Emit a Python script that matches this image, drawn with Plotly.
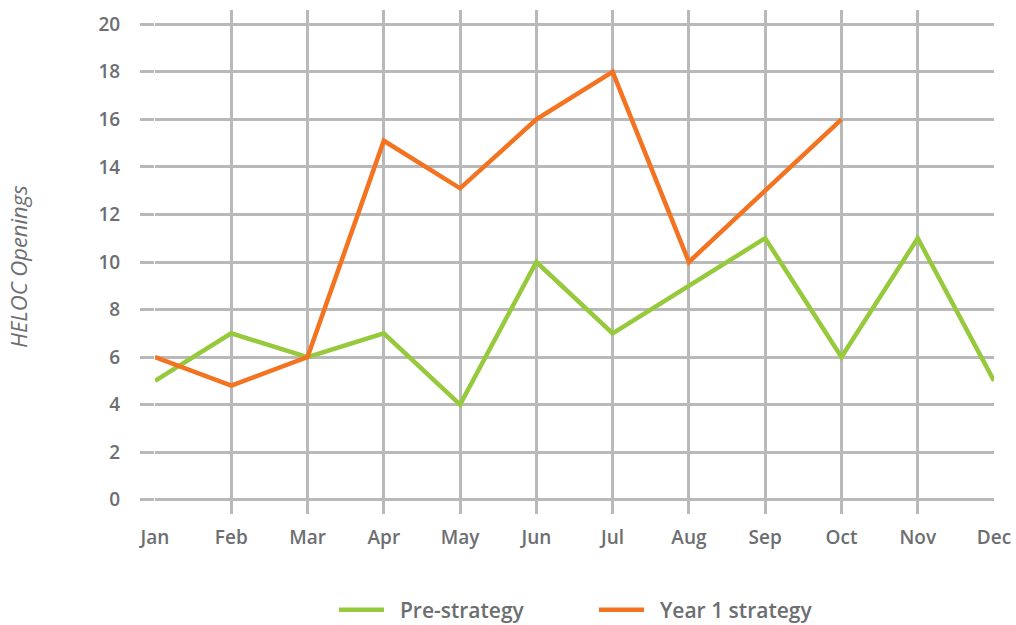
import plotly.graph_objects as go

months = ["Jan", "Feb", "Mar", "Apr", "May", "Jun", "Jul", "Aug", "Sep", "Oct", "Nov", "Dec"]
pre_strategy = [5, 7, 6, 7, 4, 10, 7, 9, 11, 6, 11, 5]
year1_strategy = [6, 4.8, 6, 15.1, 13.1, 16, 18, 10, 13, 16, None, None]
y_ticks = [0, 2, 4, 6, 8, 10, 12, 14, 16, 18, 20]
series_names = ["Pre-strategy", "Year 1 strategy"]

GREEN = "#97c93d"
ORANGE = "#f37321"
GRID = "#b9b9b9"
TEXT = "#6d6e71"
FONT = "Open Sans"
PAD = "\u00a0\u00a0"

fig = go.Figure()
fig.add_trace(go.Scatter(x=months, y=pre_strategy, mode="lines", name=PAD + series_names[0],
                         line=dict(color=GREEN, width=4.5)))
fig.add_trace(go.Scatter(x=months, y=year1_strategy, mode="lines", name=PAD + series_names[1],
                         line=dict(color=ORANGE, width=4.5)))

fig.update_layout(
    width=1016, height=625,
    margin=dict(l=155, r=22, t=10, b=111),
    paper_bgcolor="white", plot_bgcolor="white",
    font=dict(family=FONT, color=TEXT, size=19),
    showlegend=True,
    legend=dict(orientation="h", x=(334 - 155) / 839, xanchor="left", xref="paper",
                y=0.024, yanchor="middle", yref="container",
                font=dict(family=FONT, size=21, color=TEXT, weight=600),
                itemwidth=45, traceorder="normal", entrywidth=200, entrywidthmode="pixels"),
    xaxis=dict(
        range=[0, 11], showgrid=True, gridcolor=GRID, gridwidth=2.5,
        zeroline=False, showline=False, automargin=False,
        ticks="", tickfont=dict(family=FONT, size=19, color=TEXT, weight=600),
        ticklabelstandoff=10,
    ),
    yaxis=dict(
        range=[-0.6, 20.6], tickvals=y_ticks, showgrid=True, gridcolor=GRID, gridwidth=2.5,
        zeroline=False, showline=False, automargin=False,
        ticks="outside", ticklen=14, tickcolor=GRID, tickwidth=2.5,
        tickfont=dict(family=FONT, size=19, color=TEXT, weight=600),
        ticklabelstandoff=16,
    ),
    annotations=[dict(text="<i>HELOC Openings</i>", xref="paper", yref="paper",
                      x=-155 / 839 + 18 / 839, y=0.49, xanchor="center", yanchor="middle",
                      textangle=-90, showarrow=False,
                      font=dict(family=FONT, size=22, color=TEXT))],
)

fig.write_html("out.html")
